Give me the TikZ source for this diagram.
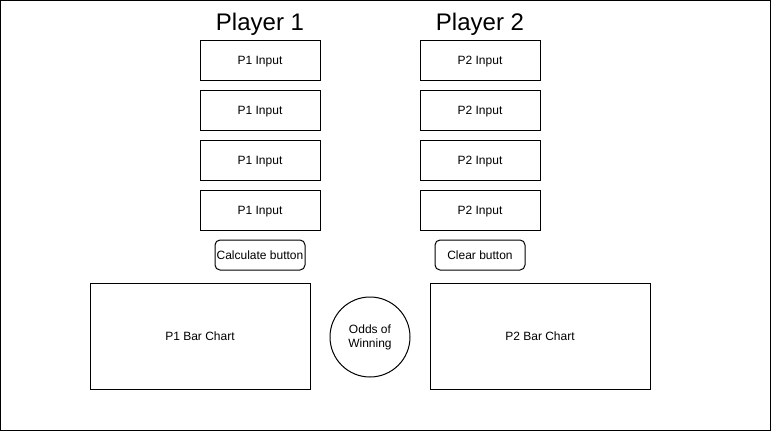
\documentclass[tikz,border=0pt]{standalone}
\usepackage{fontspec}
\setmainfont{Liberation Sans}
\begin{document}
\begin{tikzpicture}[x=1pt,y=-1pt,line width=1pt,
  lbl/.style={font=\fontsize{12}{14}\selectfont,text height=8.6pt,text depth=0.6pt},
  inbox/.style={draw,lbl,minimum width=120pt,minimum height=40pt,inner sep=0pt},
  btn/.style={draw,lbl,rounded corners=5pt,minimum width=90pt,minimum height=30pt,inner sep=0pt},
  chart/.style={draw,lbl,minimum width=220pt,minimum height=106pt,inner sep=0pt},
  title/.style={font=\fontsize{24}{28}\selectfont,inner sep=0pt}]
\draw[line width=1pt] (0.5,0.5) rectangle (770.5,430.5);
\useasboundingbox (0,0) rectangle (771,431);
\node[title] (t1) at (260,24) {Player 1};
\node[title] (t2) at (480,24) {Player 2};
\node[inbox] (a1) at (260,60) {P1 Input};
\node[inbox] (a2) at (260,110) {P1 Input};
\node[inbox] (a3) at (260,160) {P1 Input};
\node[inbox] (a4) at (260,210) {P1 Input};
\node[inbox] (b1) at (480,60) {P2 Input};
\node[inbox] (b2) at (480,110) {P2 Input};
\node[inbox] (b3) at (480,160) {P2 Input};
\node[inbox] (b4) at (480,210) {P2 Input};
\node[btn] (calc) at (260,255) {Calculate button};
\node[btn] (clear) at (480,255) {Clear button};
\node[chart] (c1) at (200,336) {P1 Bar Chart};
\node[chart] (c2) at (540,336) {P2 Bar Chart};
\node[draw,circle,minimum size=80pt,inner sep=0pt,align=center,font=\fontsize{12}{14}\selectfont] (odds) at (370,337) {Odds of\\Winning};
\end{tikzpicture}
\end{document}
